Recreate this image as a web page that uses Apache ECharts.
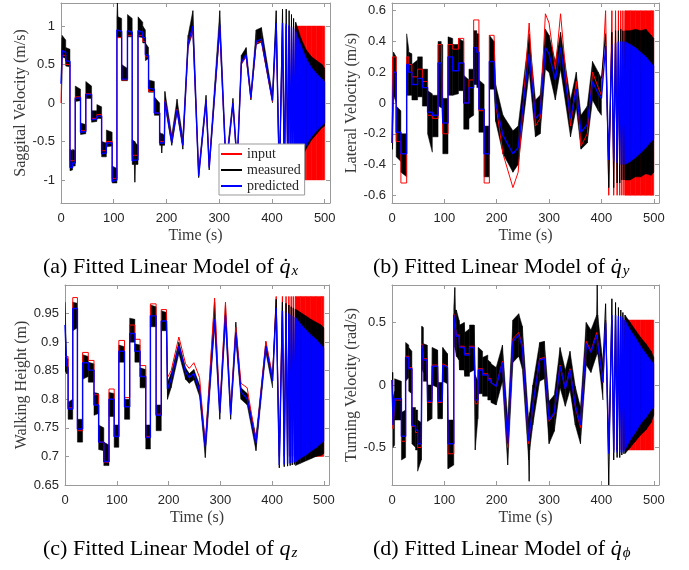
<!DOCTYPE html>
<html><head><meta charset="utf-8">
<script src="https://cdn.jsdelivr.net/npm/echarts@6/dist/echarts.min.js"></script>
<style>html,body{margin:0;padding:0;background:#fff}#c{width:689px;height:570px}</style>
</head><body><div id="c"></div>
<script>
// ---------- shared ----------
const xTicks = [0, 100, 200, 300, 400, 500];
const chirpT = [408, 414, 420, 423.5, 427, 430, 432.5, 435, 437, 439, 441, 443, 445];
const bandT = [445, 455, 465, 475, 485, 495, 500];

// ---------- (a) sagittal velocity ----------
const yTicksA = [-1, -0.5, 0, 0.5, 1];
const timeA = [0,2,2,9,9,17,17,22,22,27, 27,37,37,47,47,58,58,68,68,77, 77,86,86,97,97,106,106,107,108,115, 115,126,126,135,135,139,140,141,146,146, 155,155,160,160,166,166,177,177,187,187, 190,191,192,196,197,210,220,231,241,250, 261,275,281,301,313,326,334,342,351,360, 370,380,401];
const inputA = [0,0,0.62,0.62,0.5,0.5,-0.75,-0.75,-0.75,-0.75, 0.08,0.08,-0.36,-0.36,0.12,0.12,-0.2,-0.2,-0.15,-0.15, -0.62,-0.62,-0.5,-0.5,-0.98,-0.98,0.85,0.85,0.85,0.85, 0.3,0.3,0.88,0.88,-0.68,-0.68,-0.68,-0.68,-0.68,0.88, 0.88,0.8,0.8,0.6,0.6,0.15,0.15,-0.13,-0.13,-0.5, -0.5,-0.5,-0.5,-0.5,0.03,-0.5,-0.08,-0.55,0.76,0.96, -0.93,0.03,-0.82,0.98,-0.85,0.0,-0.8,0.52,0.6,0.06, 0.78,0.8,0.02];
const predA = [0.25,0.6,0.68,0.66,0.55,0.54,-0.84,-0.84,-0.78,-0.78, 0.06,0.07,-0.38,-0.37,0.11,0.11,-0.22,-0.21,-0.17,-0.17, -0.66,-0.65,-0.52,-0.52,-1.02,-1.0,0.95,0.95,0.95,0.93, 0.31,0.31,0.94,0.92,-0.75,-0.745,-0.74,-0.74,-0.74,0.94, 0.92,0.85,0.85,0.63,0.62,0.19,0.18,-0.13,-0.13,-0.52, -0.52,-0.52,-0.52,-0.52,0.02,-0.52,-0.09,-0.55,0.78,1.0, -0.95,0.04,-0.84,1.02,-0.85,0.0,-0.8,0.53,0.63,0.07, 0.8,0.83,0.03];
const measHiA = [0.3,0.85,0.88,0.82,0.72,0.7,-0.6,-0.62,-0.6,-0.62, 0.22,0.18,-0.26,-0.28,0.28,0.22,-0.1,-0.1,-0.02,-0.05, -0.5,-0.52,-0.35,-0.38,-0.82,-0.85,1.12,1.3,1.12,1.1, 0.5,0.45,1.15,1.1,-0.47,-0.5,-0.5,-0.52,-0.55,1.12, 1.05,1.0,0.95,0.78,0.72,0.3,0.28,0.08,0.0,-0.38, -0.4,-0.4,-0.4,-0.42,0.15,-0.42,0.05,-0.45,0.88,1.2, -0.88,0.1,-0.78,1.2,-0.78,0.06,-0.74,0.62,0.72,0.12, 0.95,0.98,0.1];
const measLoA = [0.0,0.3,0.6,0.58,0.48,0.47,-0.88,-0.87,-0.82,-0.82, 0.02,0.03,-0.41,-0.4,0.06,0.06,-0.25,-0.24,-0.2,-0.2, -0.7,-0.7,-0.57,-0.56,-1.04,-1.04,0.85,0.86,0.86,0.85, 0.29,0.29,0.86,0.86,-0.8,-0.8,-1.03,-0.8,-0.8,0.86, 0.85,0.78,0.78,0.55,0.58,0.14,0.14,-0.16,-0.16,-0.55, -0.55,-0.65,-0.55,-0.55,-0.02,-0.55,-0.12,-0.6,0.72,0.92, -0.97,0.0,-0.87,0.95,-0.88,-0.03,-0.83,0.5,0.6,0.04, 0.76,0.79,0.0];
const chirpInA = [1,-1,1,-1,1,-1,1,-1,1,-1,1,-1,1];
const chirpPredA = [1.04,-1.0,1.04,-1.0,1.03,-1.0,1.01,-0.98,0.99,-0.96,0.97,-0.94,0.93];
const chirpMeasA = [1.2,-1.1,1.22,-1.08,1.22,-1.06,1.2,-1.04,1.15,-1.02,1.1,-0.98,1.05];
const inLimA = [-1, 1];
const bandPredHiA = [0.93,0.75,0.58,0.46,0.38,0.31,0.28];
const bandPredLoA = [-0.9,-0.72,-0.55,-0.44,-0.36,-0.29,-0.26];
const bandMeasHiA = [1.05,0.84,0.69,0.6,0.55,0.5,0.45];
const bandMeasLoA = [-0.95,-0.76,-0.59,-0.48,-0.4,-0.32,-0.3];

// ---------- (b) lateral velocity ----------
const yTicksB = [-0.6, -0.4, -0.2, 0, 0.2, 0.4, 0.6];
const timeB = [0,1,1,3,8,8,17,17,28,28, 32,32,38,38,49,49,58,58,68,68, 77,77,88,88,94,94,97,97,107,107, 116,116,127,127,137,137,147,147,156,156, 162,162,166,166,176,176,186,186,195,198, 212,231,241,262,274,283,293,300,312,322, 341,352,361,373,383,394,400];
const inputB = [-0.26,-0.26,0.3,0.3,0.3,-0.25,-0.25,-0.52,-0.52,0.3, 0.3,0.25,0.25,0.17,0.17,0.22,0.22,0.14,0.14,-0.08, -0.08,-0.1,-0.1,0.38,0.38,0.38,0.38,-0.2,-0.2,0.38, 0.38,0.35,0.35,0.42,0.42,0.0,0.0,0.15,0.15,0.54, 0.54,0.54,0.54,-0.05,-0.05,-0.52,-0.52,0.44,0.44,0.0, -0.33,-0.55,-0.45,0.52,-0.15,-0.1,0.58,0.52,0.22,0.58, -0.15,0.14,-0.28,-0.2,0.2,0.1,0.05];
const predB = [-0.26,-0.1,-0.1,0.2,0.2,-0.19,-0.19,-0.33,-0.33,0.25, 0.25,0.2,0.2,0.12,0.12,0.16,0.16,0.1,0.1,-0.06, -0.06,-0.08,-0.08,0.26,0.26,0.23,0.23,-0.13,-0.13,0.3, 0.3,0.21,0.21,0.26,0.26,0.0,0.0,0.1,0.1,0.36, 0.36,0.33,0.33,-0.04,-0.04,-0.33,-0.33,0.27,0.27,0.0, -0.21,-0.33,-0.29,0.32,-0.1,-0.07,0.36,0.32,0.15,0.36, -0.1,0.09,-0.19,-0.14,0.14,0.06,0.03];
const measHiB = [-0.1,0.0,0.0,0.33,0.3,-0.02,-0.05,-0.2,-0.2,0.45, 0.35,0.33,0.32,0.25,0.28,0.3,0.3,0.22,0.22,0.08, 0.06,0.05,0.05,0.4,0.4,0.38,0.38,0.03,0.03,0.43, 0.42,0.38,0.38,0.42,0.4,0.18,0.15,0.22,0.22,0.47, 0.47,0.45,0.45,0.15,0.12,-0.15,-0.15,0.44,0.4,0.12, -0.08,-0.18,-0.15,0.45,0.02,0.05,0.48,0.44,0.27,0.46, 0.02,0.2,-0.08,-0.02,0.27,0.2,0.16];
const measLoB = [-0.3,-0.3,-0.3,0.05,0.0,-0.35,-0.38,-0.45,-0.48,0.05, 0.05,0.05,0.05,0.02,0.02,0.04,0.04,-0.02,-0.02,-0.2, -0.32,-0.22,-0.22,-0.02,-0.03,-0.03,-0.03,-0.33,-0.33,0.05, 0.05,0.05,0.06,0.08,0.08,-0.17,-0.17,-0.1,-0.08,0.12, 0.12,0.1,0.1,-0.19,-0.19,-0.48,-0.48,0.09,0.09,-0.12, -0.33,-0.45,-0.4,0.2,-0.22,-0.2,0.22,0.2,0.02,0.22, -0.22,-0.03,-0.3,-0.26,0.02,-0.05,-0.08];
const chirpInB = [0.6,-0.6,0.6,-0.6,0.6,-0.6,0.6,-0.6,0.6,-0.6,0.6,-0.6,0.6];
const chirpPredB = [0.37,-0.37,0.38,-0.38,0.39,-0.39,0.4,-0.4,0.4,-0.4,0.4,-0.4,0.4];
const chirpMeasB = [0.45,-0.55,0.46,-0.55,0.47,-0.52,0.47,-0.52,0.48,-0.5,0.47,-0.5,0.47];
const inLimB = [-0.6, 0.6];
const bandPredHiB = [0.4,0.38,0.36,0.33,0.3,0.26,0.24];
const bandPredLoB = [-0.4,-0.38,-0.355,-0.325,-0.29,-0.25,-0.235];
const bandMeasHiB = [0.47,0.47,0.48,0.47,0.48,0.44,0.42];
const bandMeasLoB = [-0.5,-0.5,-0.48,-0.48,-0.46,-0.47,-0.45];

// ---------- (c) walking height ----------
const yTicksC = [0.65, 0.7, 0.75, 0.8, 0.85, 0.9, 0.95];
const timeC = [0,3,6,6,15,15,24,24,34,34, 45,45,56,56,65,65,75,75,85,85, 95,95,104,104,115,115,125,125,135,135, 145,145,156,156,165,165,176,176,186,186, 196,198,205,220,233,240,249,260,271,289, 299,310,320,330,340,352,369,388,401];
const inputC = [0.875,0.875,0.875,0.785,0.785,0.978,0.978,0.745,0.745,0.882, 0.882,0.868,0.868,0.808,0.808,0.725,0.725,0.69,0.69,0.818, 0.818,0.735,0.735,0.903,0.903,0.803,0.803,0.93,0.93,0.905, 0.905,0.859,0.859,0.735,0.735,0.967,0.967,0.774,0.774,0.957, 0.957,0.838,0.85,0.909,0.862,0.854,0.864,0.838,0.72,0.977, 0.78,0.97,0.778,0.926,0.828,0.82,0.725,0.902,0.84];
const predC = [0.93,0.86,0.855,0.783,0.783,0.959,0.959,0.748,0.748,0.864, 0.864,0.851,0.851,0.79,0.79,0.725,0.725,0.691,0.691,0.8, 0.8,0.735,0.735,0.884,0.884,0.787,0.787,0.915,0.915,0.884, 0.884,0.84,0.84,0.733,0.733,0.946,0.946,0.772,0.772,0.937, 0.937,0.818,0.835,0.893,0.848,0.838,0.845,0.815,0.717,0.94, 0.776,0.947,0.773,0.917,0.813,0.801,0.723,0.893,0.832];
const measHiC = [0.97,0.875,0.87,0.795,0.8,0.97,0.968,0.765,0.765,0.878, 0.875,0.865,0.862,0.812,0.81,0.755,0.75,0.725,0.72,0.812, 0.81,0.755,0.755,0.895,0.892,0.8,0.8,0.942,0.94,0.897, 0.895,0.855,0.852,0.755,0.755,0.965,0.962,0.79,0.79,0.955, 0.952,0.83,0.845,0.9,0.855,0.845,0.852,0.825,0.725,0.97, 0.785,0.965,0.785,0.935,0.82,0.81,0.735,0.9,0.84];
const measLoC = [0.85,0.845,0.845,0.765,0.765,0.92,0.925,0.725,0.725,0.835, 0.84,0.83,0.83,0.772,0.775,0.712,0.71,0.684,0.684,0.77, 0.77,0.716,0.716,0.865,0.865,0.765,0.765,0.9,0.9,0.865, 0.865,0.82,0.82,0.713,0.713,0.927,0.927,0.745,0.745,0.92, 0.92,0.8,0.82,0.88,0.835,0.828,0.834,0.805,0.698,0.93, 0.765,0.935,0.765,0.905,0.8,0.79,0.71,0.882,0.82];
const chirpInC = [0.98,0.7,0.98,0.7,0.98,0.7,0.98,0.7,0.98,0.7,0.98,0.7,0.98];
const chirpPredC = [0.96,0.685,0.955,0.686,0.952,0.687,0.95,0.688,0.948,0.689,0.946,0.69,0.944];
const chirpMeasC = [0.975,0.68,0.97,0.682,0.968,0.683,0.965,0.684,0.962,0.685,0.96,0.686,0.958];
const inLimC = [0.7, 0.98];
const bandPredHiC = [0.944,0.932,0.922,0.913,0.905,0.895,0.89];
const bandPredLoC = [0.69,0.697,0.702,0.709,0.715,0.723,0.727];
const bandMeasHiC = [0.958,0.952,0.946,0.94,0.935,0.93,0.925];
const bandMeasLoC = [0.684,0.688,0.692,0.696,0.7,0.702,0.705];

// ---------- (d) turning velocity ----------
const yTicksD = [-0.5, 0, 0.5];
const timeD = [0,2,2,5,5,18,18,26,26,32, 32,38,38,45,45,49,49,56,57,60, 60,67,68,76,77,87,88,96,97,106, 107,118,118,120,121,123,128,129,138,139, 148,148,157,159,164,165,173,173,183,183, 189,189,199,211,221,231,242,249,261,262, 263,269,282,291,300,310,321,331,340,350, 360,371,380,391,392,393,403];
const inputD = [0.04,0.04,-0.35,-0.35,-0.12,-0.12,-0.45,-0.45,0.23,0.23, 0.14,0.14,-0.33,-0.33,-0.38,-0.38,-0.5,-0.5,0.33,0.33, 0.21,0.21,-0.14,-0.14,0.16,0.16,-0.14,-0.14,0.17,0.15, -0.55,-0.55,0.57,0.5,0.46,0.4,0.4,0.31,0.31,0.25, 0.25,0.31,0.31,-0.15,-0.15,0.13,0.13,0.09,0.09,0.05, 0.05,0.02,-0.01,0.19,-0.5,0.37,0.42,0.31,-0.47,-0.42, -0.39,-0.17,0.21,0.22,-0.29,-0.23,0.16,-0.03,0.13,-0.17, -0.34,0.35,0.27,0.42,0.43,0.43,0.02];
const predD = [0.04,0.04,-0.32,-0.32,-0.11,-0.11,-0.41,-0.41,0.22,0.22, 0.13,0.13,-0.32,-0.33,-0.36,-0.36,-0.47,-0.47,0.32,0.32, 0.2,0.2,-0.13,-0.13,0.15,0.15,-0.13,-0.13,0.16,0.14, -0.47,-0.47,0.56,0.49,0.45,0.39,0.39,0.3,0.3,0.24, 0.24,0.3,0.3,-0.12,-0.12,0.12,0.12,0.08,0.08,0.04, 0.04,0.02,-0.01,0.18,-0.47,0.35,0.4,0.3,-0.45,-0.41, -0.38,-0.16,0.2,0.21,-0.28,-0.22,0.15,-0.03,0.12,-0.16, -0.32,0.33,0.26,0.4,0.41,0.41,0.02];
const measHiD = [0.1,0.1,-0.1,-0.05,0.05,0.03,-0.22,-0.2,0.34,0.32, 0.3,0.27,-0.18,-0.18,-0.2,-0.2,-0.28,-0.3,0.47,0.46, 0.33,0.32,0.0,0.0,0.3,0.28,0.02,0.02,0.3,0.25, -0.28,-0.28,0.62,0.78,0.6,0.6,0.52,0.48,0.5,0.42, 0.45,0.48,0.48,0.08,0.03,0.3,0.27,0.22,0.24,0.2, 0.18,0.17,0.14,0.32,-0.28,0.52,0.57,0.47,-0.28,-0.25, -0.22,0.0,0.34,0.35,-0.13,-0.08,0.3,0.12,0.27,-0.01, -0.18,0.5,0.44,0.56,0.8,0.56,0.17];
const measLoD = [-0.05,-0.3,-0.5,-0.48,-0.28,-0.28,-0.6,-0.58,0.03,0.06, -0.05,-0.07,-0.47,-0.5,-0.52,-0.52,-0.69,-0.6,0.13,0.1, 0.03,0.03,-0.29,-0.27,0.0,-0.02,-0.27,-0.27,0.03,0.01, -0.67,-0.64,0.35,0.3,0.28,0.23,0.2,0.12,0.12,0.07, 0.07,0.1,0.12,-0.52,-0.27,-0.07,-0.07,-0.09,-0.09,-0.12, -0.12,-0.14,-0.16,0.03,-0.64,0.18,0.23,0.13,-0.6,-0.77, -0.52,-0.32,0.03,0.05,-0.47,-0.37,-0.02,-0.17,-0.04,-0.32, -0.47,0.16,0.1,0.24,0.25,0.25,-0.12];
const chirpInD = [0.52,-0.52,0.52,-0.52,0.52,-0.52,0.52,-0.52,0.52,-0.52,0.52,-0.52,0.52];
const chirpPredD = [0.5,-0.55,0.56,-0.54,0.56,-0.54,0.55,-0.54,0.55,-0.54,0.54,-0.53,0.52];
const chirpMeasD = [0.65,-0.8,0.69,-0.6,0.66,-0.58,0.62,-0.58,0.6,-0.56,0.58,-0.55,0.56];
const inLimD = [-0.52, 0.52];
const bandPredHiD = [0.52,0.44,0.38,0.31,0.25,0.195,0.17];
const bandPredLoD = [-0.52,-0.44,-0.38,-0.31,-0.26,-0.2,-0.18];
const bandMeasHiD = [0.56,0.5,0.44,0.38,0.33,0.27,0.22];
const bandMeasLoD = [-0.55,-0.5,-0.45,-0.4,-0.36,-0.3,-0.24];

// ---------- build ----------
const RED = '#ff0000', BLUE = '#0000ff', BLACK = '#000000', AXC = '#9a9a9a';
const SERIF = "'Liberation Serif','DejaVu Serif',serif";
const SANS = "'Liberation Sans',Arial,sans-serif";
const pairs = (t, v) => t.map((x, i) => [x, v[i]]);
const at = (a, i) => Array.isArray(a) ? a[i] : a;

const panels = [
  {grid:{left:61, top:3, width:269, height:200}, yMin:-1.3, yMax:1.3, yTicks:yTicksA, yName:'Saggital Velocity (m/s)', yGap:32,
   time:timeA, input:inputA, pred:predA, hi:measHiA, lo:measLoA, cIn:chirpInA, cPred:chirpPredA, cMeas:chirpMeasA,
   inLim:inLimA, bPH:bandPredHiA, bPL:bandPredLoA, bMH:bandMeasHiA, bML:bandMeasLoA},
  {grid:{left:392, top:3, width:267, height:200}, yMin:-0.65, yMax:0.65, yTicks:yTicksB, yName:'Lateral Velocity (m/s)', yGap:31,
   time:timeB, input:inputB, pred:predB, hi:measHiB, lo:measLoB, cIn:chirpInB, cPred:chirpPredB, cMeas:chirpMeasB,
   inLim:inLimB, bPH:bandPredHiB, bPL:bandPredLoB, bMH:bandMeasHiB, bML:bandMeasLoB},
  {grid:{left:65, top:285, width:264, height:200}, yMin:0.65, yMax:1.0, yTicks:yTicksC, yName:'Walking Height (m)', yGap:35,
   time:timeC, input:inputC, pred:predC, hi:measHiC, lo:measLoC, cIn:chirpInC, cPred:chirpPredC, cMeas:chirpMeasC,
   inLim:inLimC, bPH:bandPredHiC, bPL:bandPredLoC, bMH:bandMeasHiC, bML:bandMeasLoC},
  {grid:{left:392, top:285, width:267, height:200}, yMin:-0.8, yMax:0.8, yTicks:yTicksD, yName:'Turning Velocity (rad/s)', yGap:31,
   time:timeD, input:inputD, pred:predD, hi:measHiD, lo:measLoD, cIn:chirpInD, cPred:chirpPredD, cMeas:chirpMeasD,
   inLim:inLimD, bPH:bandPredHiD, bPL:bandPredLoD, bMH:bandMeasHiD, bML:bandMeasLoD}
];

// filled band between lo and hi, one quadrilateral per pair of neighbouring samples
function band(ax, name, t, lo, hi, color) {
  return {
    type: 'custom', name, xAxisIndex: ax, yAxisIndex: ax, silent: true, clip: true,
    data: t.map((x, i) => [x, at(lo, i)]), encode: {x: 0, y: 1},
    itemStyle: {color},
    renderItem: function (params, api) {
      const i = params.dataIndex;
      if (i >= t.length - 1 || t[i + 1] === t[i]) return null;
      const pts = [
        api.coord([t[i], at(hi, i)]), api.coord([t[i + 1], at(hi, i + 1)]),
        api.coord([t[i + 1], at(lo, i + 1)]), api.coord([t[i], at(lo, i)])
      ];
      return {type: 'polygon', shape: {points: pts, smooth: 0},
        style: {fill: color, stroke: color, lineWidth: 0.5, lineJoin: 'bevel'}};
    }
  };
}
function line(ax, name, data, color, width) {
  return {type: 'line', name, xAxisIndex: ax, yAxisIndex: ax, data, symbol: 'none', showSymbol: false,
    clip: true, silent: true, lineStyle: {color, width}, itemStyle: {color}};
}

const grid = [], xAxis = [], yAxis = [], series = [];
panels.forEach((p, i) => {
  grid.push(Object.assign({containLabel: false}, p.grid));
  const ax = 2 * i;
  const tick = {show: true, inside: true, length: 4, lineStyle: {color: AXC, width: 1}};
  const aline = {show: true, onZero: false, lineStyle: {color: AXC, width: 1}};
  xAxis.push({type: 'value', gridIndex: i, position: 'bottom', min: 0, max: 510,
    axisLine: aline, axisTick: Object.assign({customValues: xTicks}, tick), splitLine: {show: false},
    axisLabel: {customValues: xTicks, margin: 9, fontFamily: SANS, fontSize: 13, color: '#262626', formatter: v => String(v)},
    name: 'Time (s)', nameLocation: 'middle', nameGap: 25, nameTextStyle: {fontFamily: SERIF, fontSize: 16, color: '#3a3a3a'}});
  xAxis.push({type: 'value', gridIndex: i, position: 'top', min: 0, max: 510,
    axisLine: aline, axisTick: Object.assign({customValues: xTicks}, tick), axisLabel: {show: false}, splitLine: {show: false}});
  yAxis.push({type: 'value', gridIndex: i, position: 'left', min: p.yMin, max: p.yMax,
    axisLine: aline, axisTick: Object.assign({customValues: p.yTicks}, tick), splitLine: {show: false},
    axisLabel: {customValues: p.yTicks, margin: 6, fontFamily: SANS, fontSize: 13, color: '#262626', formatter: v => String(v)},
    name: p.yName, nameLocation: 'middle', nameRotate: 90, nameGap: p.yGap, nameTextStyle: {fontFamily: SERIF, fontSize: 16, color: '#3a3a3a'}});
  yAxis.push({type: 'value', gridIndex: i, position: 'right', min: p.yMin, max: p.yMax,
    axisLine: aline, axisTick: Object.assign({customValues: p.yTicks}, tick), axisLabel: {show: false}, splitLine: {show: false}});

  const n = p.time.length;
  // input (red)
  series.push(line(ax, 'input', pairs(p.time, p.input).concat(pairs(chirpT, p.cIn)), RED, 1));
  series.push(band(ax, 'input', bandT, p.inLim[0], p.inLim[1], RED));
  // measured (black)
  series.push(band(ax, 'measured', p.time, p.lo, p.hi, BLACK));
  series.push(line(ax, 'measured', [[p.time[n - 1], p.hi[n - 1]]].concat(pairs(chirpT, p.cMeas)), BLACK, 1));
  series.push(band(ax, 'measured', bandT, p.bML, p.bMH, BLACK));
  // predicted (blue)
  series.push(line(ax, 'predicted', pairs(p.time, p.pred).concat(pairs(chirpT, p.cPred)), BLUE, 1.4));
  series.push(band(ax, 'predicted', bandT, p.bPL, p.bPH, BLUE));
});

const caps = [
  {x: 43, y: 267, lab: '(a)', sym: 'q\u0307', sub: 'x'},
  {x: 373, y: 267, lab: '(b)', sym: 'q\u0307', sub: 'y'},
  {x: 43, y: 549, lab: '(c)', sym: 'q', sub: 'z'},
  {x: 373, y: 549, lab: '(d)', sym: 'q\u0307', sub: '\u03d5'}
];
const graphic = caps.map(c => ({
  type: 'text', x: c.x, y: c.y, silent: true,
  style: {
    text: '{n|' + c.lab + ' Fitted Linear Model of }{q|' + c.sym + '}{s|' + c.sub + '}',
    align: 'left', verticalAlign: 'middle', fill: '#000',
    rich: {
      n: {fontFamily: SERIF, fontSize: 22, lineHeight: 28, fill: '#000'},
      q: {fontFamily: SERIF, fontSize: 22, fontStyle: 'italic', lineHeight: 28, fill: '#000'},
      s: {fontFamily: SERIF, fontSize: 15, fontStyle: 'italic', lineHeight: 18, padding: [8, 0, 0, 1], fill: '#000'}
    }
  }
}));

const chart = echarts.init(document.getElementById('c'), null, {renderer: 'canvas'});
chart.setOption({
  animation: false,
  backgroundColor: '#fff',
  grid, xAxis, yAxis, series, graphic,
  legend: {
    left: 219, top: 144, orient: 'vertical', padding: [2, 4, 1, 2], itemGap: 0,
    itemWidth: 21, itemHeight: 2, backgroundColor: '#fff', borderColor: '#999', borderWidth: 1,
    selectedMode: false,
    textStyle: {fontFamily: SERIF, fontSize: 14, color: '#262626', lineHeight: 16},
    data: [
      {name: 'input', icon: 'rect', itemStyle: {color: RED}},
      {name: 'measured', icon: 'rect', itemStyle: {color: BLACK}},
      {name: 'predicted', icon: 'rect', itemStyle: {color: BLUE}}
    ]
  }
});
</script>
</body></html>
